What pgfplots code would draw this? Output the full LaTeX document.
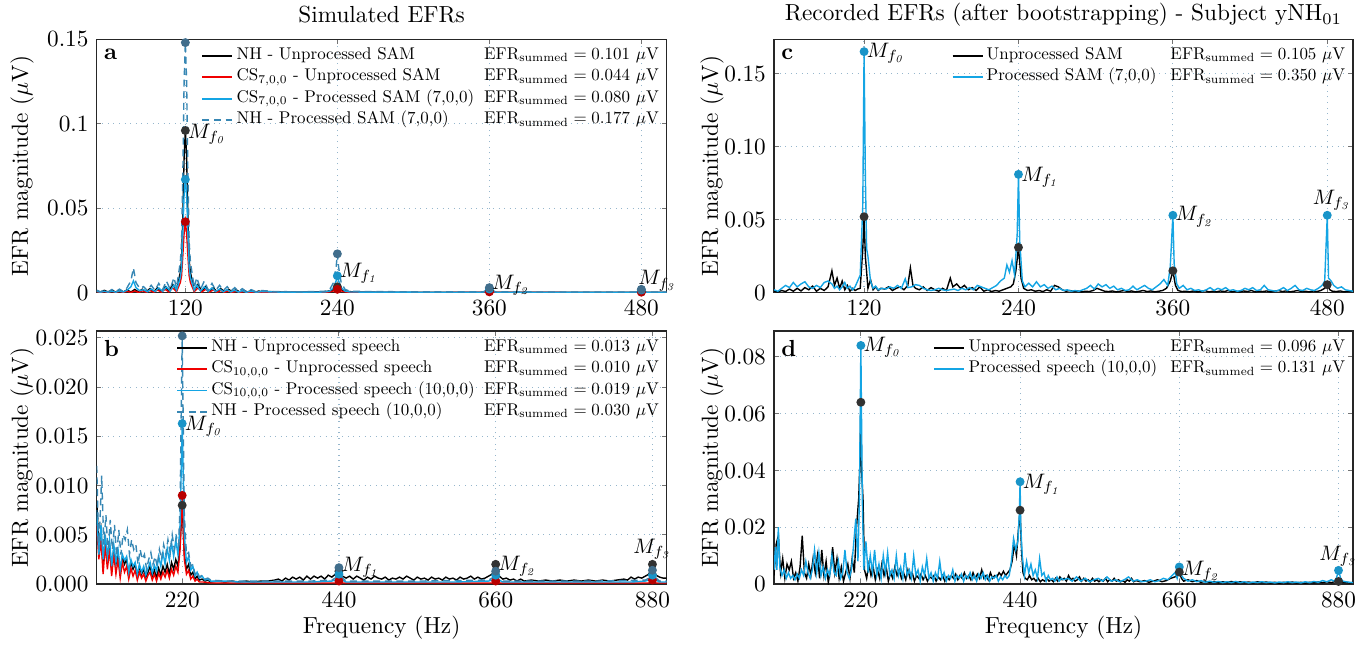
\documentclass[border=0pt]{standalone}
\usepackage{pgfplots}
\pgfplotsset{compat=1.18}
\definecolor{cblue}{RGB}{20,165,228}
\definecolor{dblue}{RGB}{55,135,180}
\definecolor{mblack}{RGB}{50,50,50}
\definecolor{mred}{RGB}{185,0,0}
\definecolor{mblue}{RGB}{25,148,200}
\definecolor{mdash}{RGB}{65,110,140}
\definecolor{gridc}{RGB}{150,182,204}
\definecolor{cred}{RGB}{240,0,0}
\pgfplotsset{
  efr/.style={
    scale only axis, anchor=south west,
    axis line style={black!85, line width=0.5pt},
    tick style={black!55, line width=0.4pt},
    major tick length=2pt, tick align=inside,
    xtick pos=both, ytick pos=both,
    xmajorgrids, ymajorgrids,
    grid style={dotted, color=gridc, line width=0.5pt},
    clip mode=individual, scaled y ticks=false,
    tick label style={font=\fontsize{10}{12}\selectfont},
    legend cell align=left,
    legend style={at={(rel axis cs:1,1)}, anchor=north east, xshift=-3.4pt, yshift=-3.3pt,
      draw=none, fill=none, inner sep=0pt, outer sep=0pt,
      nodes={inner sep=0pt, text height=5.4pt, text depth=2.4pt},
      row sep=1.4pt, column sep=1.4pt},
    legend image code/.code={\draw[##1, line width=0.75pt] (0pt,0pt) -- (12.9pt,0pt);},
    every axis plot/.append style={line width=0.6pt, mark=none},
  },
  mk/.style={only marks, mark=*, mark size=1.6pt, forget plot, fill=#1, draw=#1, color=#1},
}
\newcommand{\Mf}[1]{\scalebox{0.9}{$M_{f_{\mathit{#1}}}$}}
\newcommand{\LE}[3]{\scalebox{0.73}{\makebox[#1][l]{#2}\makebox[104pt][r]{EFR$_{\mathrm{summed}} = #3$ $\mu$V}}}
\begin{document}
\begin{tikzpicture}
\useasboundingbox (0,0) rectangle (588.67pt,276.92pt);
% titles and labels
\node at (164.1pt,270.5pt) {Simulated EFRs};
\node at (457.3pt,270.5pt) {Recorded EFRs (after bootstrapping) - Subject yNH$_{01}$};
\node at (164.1pt,6.9pt) {Frequency (Hz)};
\node at (457.3pt,6.9pt) {Frequency (Hz)};
\node[rotate=90] at (9.5pt,205.5pt) {EFR magnitude ($\mu$V)};
\node[rotate=90] at (9.5pt,80.1pt) {EFR magnitude ($\mu$V)};
\node[rotate=90] at (306.2pt,205.5pt) {EFR magnitude ($\mu$V)};
\node[rotate=90] at (306.2pt,80.1pt) {EFR magnitude ($\mu$V)};

%%%%%%%%%%%%%%%% panel a
\begin{axis}[efr, at={(41.58pt,151.06pt)}, width=245.1pt, height=109.0pt,
  xmin=50, xmax=500, ymin=0, ymax=0.15,
  xtick={120,240,360,480}, ytick={0,0.05,0.1,0.15}, yticklabels={0,0.05,0.1,0.15}]
\addplot[black] coordinates {(50,0.0012)(53,0.0004)(56,0.0014)(59,0.0004)(62,0.0015)(65,0.0004)(68,0.0016)(71,0.0004)(74,0.0017)(77,0.0004)(80,0.0019)(83,0.0005)(86,0.0021)(89,0.0005)(92,0.0024)(95,0.0006)(98,0.0029)(101,0.0007)(104,0.0036)(107,0.0009)(110,0.0050)(113,0.0012)(116,0.012)(117,0.019)(118,0.045)(119,0.08)(120,0.096)(121,0.08)(122,0.045)(123,0.019)(124,0.012)(127,0.0012)(130,0.0050)(133,0.0009)(136,0.0036)(139,0.0007)(142,0.0029)(145,0.0006)(148,0.0024)(151,0.0005)(154,0.0021)(157,0.0005)(160,0.0018)(163,0.0004)(166,0.0015)(169,0.0004)(172,0.0012)(175,0.0003)(178,0.001)(181,0.0003)(184,0.0008)(190,0.0005)(200,0.0004)(215,0.0004)(228,0.0005)(232,0.0008)(236,0.0015)(238,0.0025)(240,0.0035)(242,0.0025)(244,0.0015)(248,0.0008)(252,0.0005)(270,0.0003)(300,0.0002)(355,0.0002)(358,0.0006)(360,0.0012)(362,0.0006)(365,0.0002)(420,0.0002)(478,0.0002)(480,0.0006)(482,0.0002)(500,0.0002)};
\addlegendentry{\LE{144.7pt}{NH - Unprocessed SAM}{0.101}}
\addplot[cred] coordinates {(50,0.0006)(53,0.0002)(56,0.0007)(59,0.0002)(62,0.0008)(65,0.0002)(68,0.0008)(71,0.0002)(74,0.0009)(77,0.0002)(80,0.001)(83,0.0002)(86,0.0011)(89,0.0003)(92,0.0013)(95,0.0003)(98,0.0016)(101,0.0004)(104,0.002)(107,0.0005)(110,0.0028)(113,0.0006)(116,0.006)(117,0.010)(118,0.022)(119,0.035)(120,0.042)(121,0.035)(122,0.022)(123,0.010)(124,0.006)(127,0.0006)(130,0.0028)(133,0.0005)(136,0.002)(139,0.0004)(142,0.0016)(145,0.0003)(148,0.0013)(151,0.0003)(154,0.0011)(157,0.0002)(160,0.0009)(163,0.0002)(166,0.0007)(170,0.0002)(175,0.0005)(180,0.0002)(200,0.0002)(232,0.0003)(236,0.0008)(238,0.0014)(240,0.002)(242,0.0014)(244,0.0008)(248,0.0003)(300,0.0001)(358,0.0002)(360,0.0005)(362,0.0002)(478,0.0001)(480,0.0003)(482,0.0001)(500,0.0001)};
\addlegendentry{\LE{144.7pt}{CS$_{7,0,0}$ - Unprocessed SAM}{0.044}}
\addplot[cblue] coordinates {(50,0.0008)(53,0.0003)(56,0.0009)(59,0.0003)(62,0.001)(65,0.0003)(68,0.0011)(71,0.0004)(74,0.0015)(77,0.0035)(79,0.007)(81,0.003)(84,0.0012)(87,0.0018)(90,0.0006)(93,0.0022)(96,0.0007)(99,0.0028)(102,0.0008)(105,0.0035)(108,0.001)(111,0.0045)(113,0.0015)(116,0.009)(117,0.015)(118,0.035)(119,0.058)(120,0.067)(121,0.058)(122,0.035)(123,0.015)(124,0.009)(127,0.0015)(129,0.0045)(132,0.001)(135,0.0035)(138,0.0008)(141,0.0028)(144,0.0007)(147,0.0022)(150,0.0006)(153,0.0018)(156,0.0005)(159,0.0015)(162,0.0004)(165,0.0012)(168,0.0003)(172,0.0009)(176,0.0003)(180,0.0007)(190,0.0004)(210,0.0003)(230,0.0004)(234,0.001)(237,0.003)(239,0.007)(240,0.010)(241,0.007)(243,0.003)(246,0.001)(250,0.0004)(300,0.0003)(355,0.0003)(358,0.001)(360,0.0022)(362,0.001)(365,0.0003)(420,0.0003)(476,0.0003)(478,0.0008)(480,0.0016)(482,0.0008)(484,0.0003)(500,0.0003)};
\addlegendentry{\LE{144.7pt}{CS$_{7,0,0}$ - Processed SAM (7,0,0)}{0.080}}
\addplot[dblue, dash pattern=on 3pt off 2pt] coordinates {(50,0.0015)(53,0.0005)(56,0.0017)(59,0.0005)(62,0.0019)(65,0.0006)(68,0.0021)(71,0.0007)(74,0.003)(77,0.007)(79,0.0146)(81,0.006)(84,0.0025)(87,0.0036)(90,0.0012)(93,0.0044)(96,0.0014)(99,0.0055)(102,0.0016)(105,0.007)(108,0.002)(111,0.009)(113,0.003)(116,0.018)(117,0.03)(118,0.07)(119,0.125)(120,0.148)(121,0.125)(122,0.07)(123,0.03)(124,0.018)(127,0.003)(129,0.009)(132,0.002)(135,0.007)(138,0.0016)(141,0.0055)(144,0.0014)(147,0.0044)(150,0.0012)(153,0.0036)(156,0.001)(159,0.003)(162,0.0008)(165,0.0024)(168,0.0006)(172,0.0018)(176,0.0005)(180,0.0013)(190,0.0007)(210,0.0005)(230,0.0008)(234,0.002)(237,0.006)(239,0.015)(240,0.023)(241,0.015)(243,0.006)(246,0.002)(250,0.0008)(300,0.0005)(355,0.0005)(358,0.0015)(360,0.003)(362,0.0015)(365,0.0005)(420,0.0004)(476,0.0004)(478,0.001)(480,0.002)(482,0.001)(484,0.0004)(500,0.0004)};
\addlegendentry{\LE{144.7pt}{NH - Processed SAM (7,0,0)}{0.177}}
\addplot[mk=mblack] coordinates {(120,0.096)(240,0.0035)(360,0.0012)(480,0.0006)};
\addplot[mk=mred] coordinates {(120,0.042)(240,0.002)(360,0.0005)(480,0.0003)};
\addplot[mk=mblue] coordinates {(120,0.067)(240,0.010)(360,0.0022)(480,0.0016)};
\addplot[mk=mdash] coordinates {(120,0.148)(240,0.023)(360,0.003)(480,0.002)};
\node[anchor=north west, font=\bfseries, inner sep=0pt] at (rel axis cs:0,1) [xshift=3pt, yshift=-4pt] {a};
\node[anchor=west, inner sep=1pt] at (axis cs:120,0.094) {\Mf{0}};
\node[anchor=west, inner sep=1pt] at (axis cs:240,0.0115) {\Mf{1}};
\node[anchor=west, inner sep=1pt] at (axis cs:360,0.0045) {\Mf{2}};
\node[anchor=south west, inner sep=0pt] at (axis cs:480,0.0008) [xshift=-1.5pt] {\Mf{3}};
\end{axis}

%%%%%%%%%%%%%%%% panel b
\begin{axis}[efr, at={(41.58pt,25.8pt)}, width=245.1pt, height=108.8pt,
  xmin=100, xmax=900, ymin=0, ymax=0.0257,
  xtick={220,440,660,880}, ytick={0,0.005,0.01,0.015,0.02,0.025},
  yticklabels={0.000,0.005,0.010,0.015,0.020,0.025}]
\addplot[black] coordinates {(100,0.0085)(103,0.004)(106,0.0055)(109,0.002)(112,0.0045)(115,0.003)(118,0.004)(121,0.0015)(124,0.0035)(127,0.002)(130,0.003)(133,0.0012)(136,0.0028)(139,0.002)(142,0.0025)(145,0.001)(148,0.0022)(151,0.0015)(154,0.002)(157,0.0008)(160,0.0018)(163,0.001)(166,0.0015)(169,0.0007)(172,0.0012)(175,0.0018)(178,0.0008)(181,0.0014)(184,0.0006)(187,0.0016)(190,0.0009)(193,0.0018)(196,0.0012)(199,0.002)(202,0.001)(205,0.0022)(208,0.0015)(211,0.0025)(214,0.0018)(217,0.004)(220,0.008)(223,0.003)(226,0.0015)(229,0.002)(232,0.0009)(235,0.0012)(238,0.0005)(241,0.0008)(244,0.0004)(248,0.0005)(252,0.0003)(256,0.0004)(260,0.0002)(270,0.0003)(280,0.0002)(290,0.0003)(300,0.0002)(310,0.0003)(320,0.0002)(330,0.0003)(340,0.0003)(350,0.0004)(355,0.0005)(360,0.0003)(365,0.0006)(370,0.0004)(375,0.0007)(380,0.0005)(385,0.0007)(390,0.0004)(395,0.0008)(400,0.0005)(405,0.0008)(410,0.0006)(415,0.0008)(420,0.0005)(425,0.0009)(430,0.0007)(435,0.001)(440,0.0013)(445,0.0008)(450,0.0006)(455,0.0008)(460,0.0005)(465,0.0008)(470,0.0006)(475,0.0004)(480,0.0007)(485,0.0005)(490,0.0008)(495,0.0006)(500,0.0005)(505,0.0007)(510,0.0004)(515,0.0006)(520,0.0005)(525,0.0007)(530,0.0005)(535,0.0008)(540,0.0006)(545,0.0004)(550,0.0007)(555,0.0005)(560,0.0006)(565,0.0004)(570,0.0007)(575,0.0005)(580,0.0006)(585,0.0004)(590,0.0007)(595,0.0005)(600,0.0006)(605,0.0004)(610,0.0007)(615,0.0005)(620,0.0006)(625,0.0008)(630,0.0005)(635,0.0007)(640,0.0005)(645,0.0006)(650,0.0008)(655,0.001)(660,0.002)(665,0.0008)(670,0.0005)(675,0.0006)(680,0.0004)(685,0.0005)(690,0.0003)(695,0.0005)(700,0.0003)(710,0.0004)(720,0.0003)(730,0.0004)(740,0.0003)(750,0.0004)(760,0.0003)(770,0.0004)(780,0.0003)(790,0.0004)(800,0.0003)(810,0.0004)(820,0.0003)(830,0.0004)(840,0.0005)(845,0.0004)(850,0.0007)(855,0.0005)(860,0.0007)(865,0.0006)(870,0.0008)(875,0.001)(880,0.002)(885,0.0009)(890,0.0007)(895,0.0006)(900,0.0006)};
\addlegendentry{\LE{159.6pt}{NH - Unprocessed speech}{0.013}}
\addplot[cred] coordinates {(100,0.006)(103,0.0025)(106,0.0045)(109,0.001)(112,0.004)(115,0.0015)(118,0.0035)(121,0.0008)(124,0.003)(127,0.001)(130,0.0025)(133,0.0006)(136,0.0022)(139,0.0012)(142,0.0018)(145,0.0005)(148,0.0016)(151,0.0008)(154,0.0014)(157,0.0004)(160,0.0012)(163,0.0006)(166,0.001)(169,0.0003)(172,0.0009)(175,0.0012)(178,0.0004)(181,0.001)(184,0.0003)(187,0.0011)(190,0.0005)(193,0.0012)(196,0.0007)(199,0.0014)(202,0.0006)(205,0.0015)(208,0.0009)(211,0.0018)(214,0.0012)(217,0.0035)(220,0.009)(223,0.0025)(226,0.001)(229,0.0014)(232,0.0005)(235,0.0008)(238,0.0003)(241,0.0005)(244,0.0002)(250,0.0002)(260,0.0001)(300,0.0001)(435,0.0001)(440,0.0003)(445,0.0001)(655,0.0001)(660,0.0003)(665,0.0001)(875,0.0001)(880,0.0004)(885,0.0001)(900,0.0001)};
\addlegendentry{\LE{159.6pt}{CS$_{10,0,0}$ - Unprocessed speech}{0.010}}
\addplot[cblue] coordinates {(100,0.0075)(103,0.003)(106,0.006)(109,0.0025)(112,0.005)(115,0.0028)(118,0.0045)(121,0.0018)(124,0.004)(127,0.0022)(130,0.0035)(133,0.0015)(136,0.003)(139,0.0024)(142,0.0028)(145,0.0012)(148,0.0025)(151,0.0018)(154,0.0022)(157,0.001)(160,0.002)(163,0.0012)(166,0.0018)(169,0.0009)(172,0.0016)(175,0.0022)(178,0.0011)(181,0.0019)(184,0.0013)(187,0.0028)(190,0.0018)(193,0.0032)(196,0.002)(199,0.0036)(202,0.0024)(205,0.0042)(208,0.0028)(211,0.0045)(214,0.003)(217,0.006)(220,0.0163)(223,0.005)(226,0.0022)(229,0.0028)(232,0.0014)(235,0.0018)(238,0.0008)(241,0.0012)(244,0.0006)(248,0.0008)(252,0.0004)(256,0.0005)(260,0.0003)(280,0.0003)(300,0.0002)(350,0.0002)(400,0.0002)(430,0.0003)(435,0.0004)(440,0.001)(445,0.0004)(450,0.0002)(500,0.0002)(600,0.0002)(650,0.0003)(655,0.0004)(660,0.0009)(665,0.0004)(670,0.0002)(750,0.0002)(850,0.0002)(870,0.0003)(875,0.0004)(880,0.0009)(885,0.0004)(890,0.0002)(900,0.0002)};
\addlegendentry{\LE{159.6pt}{CS$_{10,0,0}$ - Processed speech (10,0,0)}{0.019}}
\addplot[dblue, dash pattern=on 3pt off 2pt] coordinates {(100,0.012)(103,0.0035)(107,0.011)(110,0.004)(113,0.007)(116,0.003)(119,0.0065)(122,0.0035)(125,0.006)(128,0.0028)(131,0.0055)(134,0.003)(137,0.005)(140,0.0045)(143,0.0055)(146,0.003)(149,0.0045)(152,0.0035)(155,0.004)(158,0.002)(161,0.0035)(164,0.0025)(167,0.003)(170,0.0015)(173,0.0025)(176,0.0032)(179,0.002)(182,0.0028)(185,0.0018)(188,0.0035)(191,0.0025)(194,0.004)(197,0.003)(200,0.0045)(203,0.0032)(206,0.005)(209,0.0035)(212,0.0048)(215,0.004)(217,0.008)(220,0.0252)(223,0.007)(226,0.003)(229,0.0032)(232,0.0018)(235,0.002)(238,0.001)(241,0.0013)(244,0.0007)(248,0.0009)(252,0.0005)(256,0.0006)(260,0.0004)(280,0.0003)(320,0.0003)(400,0.0003)(430,0.0004)(435,0.0006)(440,0.00166)(445,0.0006)(450,0.0003)(550,0.0003)(650,0.0004)(655,0.0006)(660,0.0013)(665,0.0006)(670,0.0003)(800,0.0003)(870,0.0004)(875,0.0006)(880,0.0014)(885,0.0006)(890,0.0003)(900,0.0003)};
\addlegendentry{\LE{159.6pt}{NH - Processed speech (10,0,0)}{0.030}}
\addplot[mk=mblack] coordinates {(220,0.0080)(440,0.0013)(660,0.002)(880,0.002)};
\addplot[mk=mred] coordinates {(220,0.009)(440,0.0003)(660,0.0003)(880,0.0004)};
\addplot[mk=mblue] coordinates {(220,0.0163)(440,0.001)(660,0.0009)(880,0.0009)};
\addplot[mk=mdash] coordinates {(220,0.0252)(440,0.00166)(660,0.0013)(880,0.0014)};
\node[anchor=north west, font=\bfseries, inner sep=0pt] at (rel axis cs:0,1) [xshift=3pt, yshift=-4pt] {b};
\node[anchor=west, inner sep=1pt] at (axis cs:220,0.016) {\Mf{0}};
\node[anchor=west, inner sep=1pt] at (axis cs:440,0.0017) {\Mf{1}};
\node[anchor=west, inner sep=1pt] at (axis cs:660,0.0018) {\Mf{2}};
\node[anchor=south, inner sep=1pt] at (axis cs:880,0.0022) {\Mf{3}};
\end{axis}

%%%%%%%%%%%%%%%% panel c
\begin{axis}[efr, at={(332.82pt,151.06pt)}, width=248.97pt, height=109.0pt,
  xmin=50, xmax=500, ymin=0, ymax=0.1735,
  xtick={120,240,360,480}, ytick={0,0.05,0.1,0.15}, yticklabels={0,0.05,0.10,0.15}]
\addplot[black] coordinates {(50,0.001)(53,0.0005)(56,0.0015)(59,0.0008)(62,0.0025)(65,0.001)(68,0.003)(71,0.0012)(74,0.0035)(77,0.002)(80,0.0045)(83,0.001)(86,0.003)(89,0.0015)(92,0.004)(95,0.015)(97,0.005)(99,0.01)(101,0.003)(103,0.008)(105,0.002)(107,0.005)(109,0.001)(111,0.003)(113,0.0015)(115,0.0025)(117,0.003)(119,0.03)(120,0.052)(121,0.025)(123,0.003)(125,0.009)(127,0.002)(129,0.004)(131,0.0015)(133,0.003)(136,0.0025)(139,0.004)(142,0.0015)(145,0.003)(148,0.004)(151,0.002)(154,0.005)(156,0.017)(158,0.005)(160,0.003)(163,0.002)(166,0.004)(169,0.0015)(172,0.0035)(175,0.002)(178,0.001)(181,0.003)(184,0.0015)(187,0.01)(189,0.004)(192,0.006)(195,0.003)(198,0.005)(201,0.002)(204,0.0035)(207,0.0015)(210,0.004)(213,0.001)(216,0.002)(219,0.0008)(222,0.0015)(225,0.001)(228,0.002)(231,0.003)(234,0.004)(236,0.006)(238,0.015)(240,0.031)(242,0.01)(244,0.003)(247,0.0015)(250,0.002)(253,0.001)(256,0.0015)(259,0.0008)(262,0.002)(265,0.001)(268,0.005)(271,0.004)(274,0.002)(277,0.001)(280,0.0015)(283,0.0008)(286,0.0012)(289,0.0005)(292,0.001)(295,0.0008)(298,0.0015)(301,0.003)(304,0.002)(307,0.001)(310,0.0008)(313,0.0012)(316,0.0005)(319,0.001)(322,0.0015)(325,0.0008)(328,0.0012)(331,0.0005)(334,0.001)(337,0.0015)(340,0.0008)(343,0.0012)(346,0.0006)(349,0.001)(352,0.0015)(355,0.003)(358,0.008)(360,0.015)(362,0.005)(364,0.0015)(367,0.0008)(370,0.001)(373,0.0006)(376,0.0012)(379,0.0005)(382,0.0008)(385,0.0015)(388,0.0005)(391,0.001)(394,0.0006)(397,0.0012)(400,0.0008)(403,0.0015)(406,0.0006)(409,0.001)(412,0.0005)(415,0.0012)(418,0.0008)(421,0.0015)(424,0.0006)(427,0.001)(430,0.0008)(433,0.0012)(436,0.0005)(439,0.001)(442,0.0015)(445,0.0008)(448,0.0012)(451,0.0006)(454,0.001)(457,0.0015)(460,0.0008)(463,0.001)(466,0.0005)(469,0.0012)(472,0.0008)(475,0.0015)(478,0.003)(480,0.0055)(482,0.002)(484,0.001)(487,0.0008)(490,0.0012)(493,0.0006)(496,0.001)(500,0.0008)};
\addlegendentry{\LE{107.1pt}{Unprocessed SAM}{0.105}}
\addplot[cblue] coordinates {(50,0.002)(53,0.001)(56,0.003)(59,0.005)(62,0.0035)(65,0.007)(68,0.004)(71,0.006)(74,0.0075)(77,0.004)(80,0.003)(83,0.005)(86,0.0035)(89,0.007)(92,0.008)(95,0.006)(97,0.003)(99,0.0045)(101,0.002)(103,0.004)(105,0.007)(107,0.003)(109,0.0045)(111,0.002)(113,0.004)(115,0.008)(117,0.012)(119,0.06)(120,0.165)(121,0.08)(122,0.03)(123,0.025)(125,0.008)(127,0.003)(129,0.0045)(131,0.002)(134,0.003)(137,0.0025)(140,0.004)(143,0.003)(146,0.005)(149,0.003)(152,0.0095)(154,0.0035)(157,0.004)(160,0.0055)(163,0.005)(166,0.003)(169,0.002)(172,0.0015)(175,0.002)(178,0.003)(181,0.002)(184,0.0015)(187,0.002)(190,0.0025)(193,0.0015)(196,0.003)(199,0.002)(202,0.0035)(205,0.002)(208,0.005)(211,0.004)(214,0.003)(217,0.002)(220,0.0035)(223,0.005)(226,0.008)(229,0.01)(231,0.019)(233,0.014)(235,0.022)(237,0.012)(239,0.04)(240,0.081)(241,0.035)(243,0.008)(245,0.004)(248,0.0065)(251,0.004)(254,0.0075)(257,0.004)(260,0.0055)(263,0.003)(266,0.0045)(269,0.002)(272,0.003)(275,0.0015)(278,0.002)(281,0.001)(284,0.0015)(287,0.001)(290,0.002)(293,0.003)(296,0.005)(299,0.0025)(302,0.006)(305,0.004)(308,0.0055)(311,0.003)(314,0.0045)(317,0.002)(320,0.003)(323,0.0015)(326,0.002)(329,0.0045)(332,0.002)(335,0.0035)(338,0.005)(341,0.003)(344,0.002)(347,0.004)(350,0.006)(353,0.009)(356,0.005)(358,0.018)(360,0.053)(361,0.02)(363,0.006)(365,0.003)(368,0.005)(371,0.002)(374,0.003)(377,0.0015)(380,0.002)(383,0.001)(386,0.002)(389,0.0035)(392,0.0015)(395,0.003)(398,0.002)(401,0.0035)(404,0.0015)(407,0.002)(410,0.001)(413,0.0015)(416,0.003)(419,0.002)(422,0.0035)(425,0.0015)(428,0.002)(431,0.005)(434,0.002)(437,0.0015)(440,0.001)(443,0.002)(446,0.0035)(449,0.0015)(452,0.003)(455,0.005)(458,0.002)(461,0.0015)(464,0.003)(467,0.002)(470,0.0015)(473,0.003)(476,0.005)(478,0.008)(480,0.053)(481,0.01)(483,0.008)(485,0.005)(488,0.003)(491,0.004)(494,0.002)(497,0.0015)(500,0.001)};
\addlegendentry{\LE{107.1pt}{Processed SAM (7,0,0)}{0.350}}
\addplot[mk=mblue] coordinates {(120,0.165)(240,0.081)(360,0.053)(480,0.053)};
\addplot[mk=mblack] coordinates {(120,0.052)(240,0.031)(360,0.015)(480,0.0055)};
\node[anchor=north west, font=\bfseries, inner sep=0pt] at (rel axis cs:0,1) [xshift=3pt, yshift=-4pt] {c};
\node[anchor=west, inner sep=1pt] at (axis cs:120,0.164) {\Mf{0}};
\node[anchor=west, inner sep=1pt] at (axis cs:240,0.079) {\Mf{1}};
\node[anchor=west, inner sep=1pt] at (axis cs:360,0.052) {\Mf{2}};
\node[anchor=south, inner sep=0.5pt] at (axis cs:480,0.055) [xshift=2pt] {\Mf{3}};
\end{axis}

%%%%%%%%%%%%%%%% panel d
\begin{axis}[efr, at={(332.82pt,25.8pt)}, width=248.97pt, height=108.8pt,
  xmin=100, xmax=900, ymin=0, ymax=0.0891,
  xtick={220,440,660,880}, ytick={0,0.02,0.04,0.06,0.08}, yticklabels={0,0.02,0.04,0.06,0.08}]
\addplot[black] coordinates {(100,0.003)(103,0.014)(106,0.017)(109,0.004)(112,0.009)(115,0.002)(118,0.007)(121,0.005)(124,0.008)(127,0.002)(130,0.004)(133,0.001)(136,0.006)(139,0.017)(142,0.004)(145,0.002)(148,0.007)(151,0.003)(154,0.009)(157,0.004)(160,0.01)(163,0.002)(166,0.012)(169,0.003)(172,0.008)(175,0.0005)(178,0.005)(181,0.013)(184,0.004)(187,0.009)(190,0.002)(193,0.006)(196,0.001)(199,0.004)(202,0.007)(205,0.002)(208,0.009)(211,0.004)(214,0.02)(217,0.03)(219,0.045)(220,0.064)(221,0.04)(223,0.03)(225,0.005)(228,0.002)(231,0.007)(234,0.003)(237,0.006)(240,0.0015)(243,0.005)(246,0.002)(249,0.007)(252,0.003)(255,0.006)(258,0.001)(261,0.004)(264,0.002)(267,0.006)(270,0.003)(273,0.005)(276,0.002)(279,0.004)(282,0.0015)(285,0.005)(288,0.002)(291,0.004)(294,0.001)(297,0.003)(300,0.002)(303,0.0035)(306,0.0015)(309,0.003)(312,0.001)(315,0.0025)(318,0.002)(321,0.003)(324,0.001)(327,0.0025)(330,0.0015)(333,0.003)(336,0.001)(339,0.0025)(342,0.0015)(345,0.003)(348,0.002)(351,0.0035)(354,0.0015)(357,0.003)(360,0.002)(363,0.004)(366,0.002)(369,0.003)(372,0.0015)(375,0.004)(378,0.002)(381,0.0035)(384,0.002)(387,0.005)(390,0.002)(393,0.003)(396,0.0015)(399,0.004)(402,0.002)(405,0.003)(408,0.0025)(411,0.004)(414,0.003)(417,0.0045)(420,0.003)(423,0.004)(426,0.005)(429,0.008)(432,0.014)(435,0.01)(438,0.02)(440,0.026)(442,0.012)(444,0.004)(447,0.002)(450,0.0015)(453,0.003)(456,0.0015)(459,0.002)(462,0.001)(465,0.002)(468,0.0008)(471,0.0015)(474,0.001)(477,0.002)(480,0.001)(483,0.0015)(486,0.0008)(489,0.002)(492,0.001)(495,0.0025)(498,0.0015)(501,0.002)(504,0.001)(507,0.003)(510,0.0015)(513,0.002)(516,0.001)(519,0.0015)(522,0.0025)(525,0.001)(528,0.002)(531,0.001)(534,0.0015)(537,0.0008)(540,0.002)(543,0.001)(546,0.0015)(549,0.0008)(552,0.0015)(555,0.001)(558,0.002)(561,0.0008)(564,0.0015)(567,0.001)(570,0.002)(573,0.001)(576,0.0015)(579,0.0008)(582,0.0012)(585,0.0006)(588,0.0015)(591,0.001)(594,0.002)(597,0.0008)(600,0.0012)(606,0.0008)(612,0.0012)(618,0.0006)(624,0.001)(630,0.0015)(636,0.0008)(642,0.0012)(648,0.002)(654,0.0025)(657,0.003)(660,0.004)(663,0.002)(666,0.001)(672,0.0015)(678,0.0008)(684,0.0012)(690,0.0006)(696,0.001)(702,0.0005)(708,0.0009)(714,0.0004)(720,0.0008)(726,0.0005)(732,0.0009)(738,0.0004)(744,0.0008)(750,0.0005)(756,0.0007)(762,0.0004)(768,0.0008)(774,0.0005)(780,0.0007)(786,0.0004)(792,0.0006)(798,0.0003)(804,0.0006)(810,0.0004)(816,0.0007)(822,0.0004)(828,0.0006)(834,0.0003)(840,0.0006)(846,0.0004)(852,0.0007)(858,0.0005)(864,0.0008)(870,0.0005)(876,0.0009)(880,0.0009)(884,0.0005)(890,0.0006)(896,0.0004)(900,0.0005)};
\addlegendentry{\LE{117.8pt}{Unprocessed speech}{0.096}}
\addplot[cblue] coordinates {(100,0.005)(102,0.013)(104,0.005)(106,0.02)(108,0.006)(111,0.003)(114,0.005)(117,0.002)(120,0.004)(123,0.002)(126,0.003)(129,0.0015)(132,0.0035)(135,0.002)(138,0.005)(141,0.003)(144,0.008)(147,0.004)(150,0.002)(153,0.005)(156,0.012)(159,0.004)(162,0.011)(165,0.003)(168,0.006)(171,0.002)(174,0.005)(177,0.003)(180,0.01)(183,0.004)(186,0.003)(189,0.008)(192,0.002)(195,0.004)(198,0.012)(201,0.004)(204,0.002)(207,0.005)(210,0.014)(213,0.023)(216,0.008)(218,0.03)(220,0.084)(222,0.03)(224,0.005)(227,0.015)(230,0.004)(233,0.01)(236,0.004)(239,0.012)(242,0.003)(245,0.007)(248,0.002)(251,0.01)(254,0.004)(257,0.011)(260,0.003)(263,0.005)(266,0.002)(269,0.01)(272,0.003)(275,0.006)(278,0.002)(281,0.011)(284,0.003)(287,0.005)(290,0.002)(293,0.01)(296,0.003)(299,0.005)(302,0.001)(305,0.006)(308,0.003)(311,0.009)(314,0.002)(317,0.004)(320,0.001)(323,0.004)(326,0.002)(329,0.008)(332,0.002)(335,0.004)(338,0.001)(341,0.003)(344,0.002)(347,0.005)(350,0.001)(353,0.003)(356,0.002)(359,0.0035)(362,0.001)(365,0.003)(368,0.002)(371,0.004)(374,0.0015)(377,0.003)(380,0.001)(383,0.0035)(386,0.002)(389,0.004)(392,0.0015)(395,0.003)(398,0.001)(401,0.0025)(404,0.002)(407,0.003)(410,0.001)(413,0.0025)(416,0.0015)(419,0.003)(422,0.002)(425,0.003)(428,0.008)(431,0.016)(434,0.012)(437,0.015)(439,0.025)(440,0.036)(441,0.02)(443,0.01)(446,0.003)(449,0.008)(452,0.004)(455,0.007)(458,0.003)(461,0.005)(464,0.002)(467,0.009)(470,0.003)(473,0.004)(476,0.001)(479,0.003)(482,0.0015)(485,0.002)(488,0.001)(491,0.0025)(494,0.001)(497,0.002)(500,0.0015)(506,0.002)(512,0.001)(518,0.0025)(524,0.001)(530,0.002)(536,0.0008)(542,0.0015)(548,0.002)(554,0.001)(560,0.0025)(566,0.001)(572,0.0015)(578,0.0008)(584,0.0015)(590,0.0025)(596,0.001)(602,0.0015)(608,0.0008)(614,0.001)(620,0.0015)(626,0.0008)(632,0.0012)(638,0.002)(644,0.0015)(650,0.003)(654,0.004)(657,0.002)(660,0.006)(663,0.003)(666,0.002)(672,0.001)(678,0.0015)(684,0.0008)(690,0.0012)(696,0.0006)(702,0.001)(708,0.0006)(714,0.0009)(720,0.0005)(726,0.0008)(732,0.0005)(738,0.0009)(744,0.0005)(750,0.0008)(756,0.0004)(762,0.0007)(768,0.0005)(774,0.0008)(780,0.0005)(786,0.0007)(792,0.0004)(798,0.0007)(804,0.0005)(810,0.0008)(816,0.0005)(822,0.0007)(828,0.0004)(834,0.0008)(840,0.0005)(846,0.0009)(852,0.0006)(858,0.0012)(864,0.0008)(870,0.0015)(874,0.001)(877,0.002)(880,0.0048)(883,0.002)(886,0.001)(890,0.0008)(896,0.0006)(900,0.0005)};
\addlegendentry{\LE{117.8pt}{Processed speech (10,0,0)}{0.131}}
\addplot[mk=mblue] coordinates {(220,0.084)(440,0.036)(660,0.006)(880,0.0048)};
\addplot[mk=mblack] coordinates {(220,0.064)(440,0.026)(660,0.0042)(880,0.0009)};
\node[anchor=north west, font=\bfseries, inner sep=0pt] at (rel axis cs:0,1) [xshift=3pt, yshift=-4pt] {d};
\node[anchor=west, inner sep=1pt] at (axis cs:220,0.0835) {\Mf{0}};
\node[anchor=west, inner sep=1pt] at (axis cs:440,0.035) {\Mf{1}};
\node[anchor=west, inner sep=1pt] at (axis cs:660,0.0045) {\Mf{2}};
\node[anchor=south, inner sep=1pt] at (axis cs:880,0.0052) {\Mf{3}};
\end{axis}
\end{tikzpicture}
\end{document}
